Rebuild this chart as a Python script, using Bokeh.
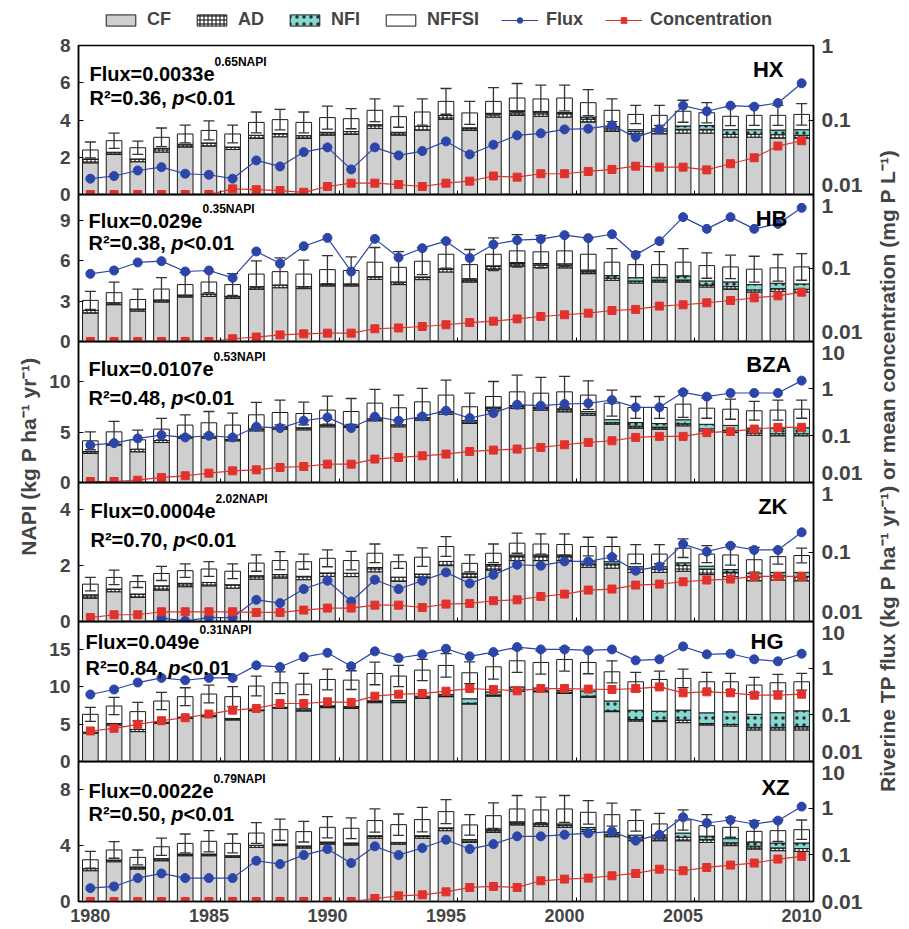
from math import pi
from bokeh.plotting import figure
from bokeh.models import (ColumnDataSource, Range1d, LogScale, LogAxis, FixedTicker,
                          CustomJSTickFormatter, Label, Legend, LegendItem)
from bokeh.layouts import column, row
from bokeh.embed import file_html
from bokeh.resources import INLINE

years = list(range(1980, 2011))

# ---------------- HX ----------------
hx_cf = [1.70, 2.15, 1.76, 2.28, 2.55, 2.60, 2.42, 3.01, 3.10, 3.01, 3.19, 3.23, 3.55, 3.19, 3.46, 4.04,
         3.44, 4.16, 4.25, 4.20, 4.16, 3.89, 3.39, 3.26, 3.26, 3.30, 3.30, 3.08, 3.08, 3.03, 3.03]
hx_ad = [0.20, 0.12, 0.15, 0.20, 0.15, 0.17, 0.13, 0.17, 0.17, 0.15, 0.15, 0.15, 0.20, 0.15, 0.20, 0.20,
         0.12, 0.15, 0.20, 0.20, 0.20, 0.15, 0.18, 0.12, 0.15, 0.20, 0.20, 0.15, 0.15, 0.18, 0.15]
hx_nfi = [0, 0, 0, 0, 0, 0, 0, 0, 0, 0, 0, 0, 0, 0, 0, 0,
          0.02, 0.05, 0.05, 0.06, 0.05, 0.12, 0.08, 0.10, 0.12, 0.18, 0.20, 0.25, 0.25, 0.25, 0.30]
hx_nffsi = [0.49, 0.62, 0.60, 0.59, 0.55, 0.67, 0.70, 0.69, 0.75, 0.71, 0.79, 0.69, 0.77, 0.84, 0.77, 0.76,
            0.80, 0.64, 0.68, 0.67, 0.77, 0.77, 0.87, 0.82, 0.72, 0.79, 0.69, 0.72, 0.77, 0.79, 0.82]
hx_err = [0.43, 0.41, 0.36, 0.50, 0.48, 0.51, 0.48, 0.56, 0.55, 0.56, 0.62, 0.54, 0.61, 0.57, 0.70, 0.69,
          0.62, 0.74, 0.78, 0.74, 0.69, 0.70, 0.61, 0.49, 0.54, 0.59, 0.54, 0.50, 0.54, 0.54, 0.58]
hx_flux = [0.0163, 0.0177, 0.021, 0.0233, 0.019, 0.0184, 0.0163, 0.0287, 0.0238, 0.0371, 0.0429, 0.0217,
           0.0429, 0.0335, 0.0383, 0.0516, 0.0345, 0.0466, 0.0622, 0.0662, 0.0748, 0.0764, 0.0848, 0.0585,
           0.0748, 0.156, 0.131, 0.156, 0.151, 0.169, 0.311]
hx_conc = [0.01, 0.01, 0.01, 0.01, 0.01, 0.01, 0.0119, 0.0116, 0.0113, 0.0107, 0.0128, 0.0142, 0.0142,
           0.0136, 0.0128, 0.0142, 0.0151, 0.0177, 0.0171, 0.019, 0.019, 0.0204, 0.0217, 0.024, 0.0233,
           0.0233, 0.0214, 0.0259, 0.0311, 0.0447, 0.0527]

# ---------------- HB ----------------
hb_cf = [2.11, 2.73, 2.26, 2.93, 3.30, 3.35, 3.20, 3.87, 3.99, 3.92, 4.12, 4.12, 4.61, 4.22, 4.59, 5.16,
         4.41, 5.36, 5.58, 5.48, 5.46, 5.03, 4.54, 4.34, 4.41, 4.41, 4.04, 3.87, 3.67, 3.72, 3.67]
hb_ad = [0.20, 0.15, 0.15, 0.15, 0.15, 0.18, 0.15, 0.20, 0.20, 0.15, 0.15, 0.15, 0.20, 0.20, 0.15, 0.20,
         0.15, 0.20, 0.20, 0.20, 0.20, 0.15, 0.15, 0.15, 0.15, 0.15, 0.15, 0.20, 0.15, 0.20, 0.20]
hb_nfi = [0, 0, 0, 0, 0, 0, 0, 0, 0, 0, 0, 0, 0, 0, 0.05, 0.03,
          0.10, 0.05, 0.08, 0.10, 0.10, 0.12, 0.20, 0.25, 0.20, 0.30, 0.30, 0.35, 0.40, 0.40, 0.40]
hb_nffsi = [0.74, 0.74, 0.71, 0.81, 0.77, 0.88, 0.87, 0.93, 0.99, 0.93, 1.06, 0.99, 1.07, 1.08, 1.16, 1.08,
            1.04, 0.86, 0.86, 0.87, 0.96, 1.17, 0.99, 0.96, 0.94, 1.02, 1.14, 1.11, 1.14, 1.14, 1.26]
hb_err = [0.67, 0.79, 0.77, 0.85, 0.88, 0.79, 0.81, 0.98, 1.02, 1.03, 1.04, 1.01, 1.09, 1.17, 0.99, 1.03,
          1.12, 1.22, 1.21, 1.21, 1.14, 1.22, 1.01, 0.97, 0.97, 1.01, 0.94, 0.87, 0.96, 0.99, 0.99]
hb_flux = [0.0833, 0.0925, 0.119, 0.124, 0.0896, 0.0925, 0.0735, 0.168, 0.115, 0.198, 0.257, 0.0896,
           0.249, 0.139, 0.186, 0.232, 0.137, 0.209, 0.239, 0.247, 0.28, 0.255, 0.288, 0.15, 0.232,
           0.492, 0.341, 0.492, 0.341, 0.398, 0.659]
hb_conc = [0.01, 0.01, 0.01, 0.01, 0.01, 0.01, 0.0109, 0.0115, 0.0123, 0.0127, 0.013, 0.013, 0.0149,
           0.0153, 0.016, 0.0169, 0.0181, 0.0189, 0.0203, 0.0219, 0.0231, 0.0243, 0.0264, 0.0273, 0.0303,
           0.0316, 0.0336, 0.0361, 0.0393, 0.0418, 0.0469]

# ---------------- BZA ----------------
bza_cf = [2.88, 3.71, 3.05, 3.97, 4.40, 4.40, 4.14, 5.13, 5.30, 5.23, 5.53, 5.46, 6.13, 5.53, 6.19, 6.79,
          5.86, 7.19, 7.35, 7.19, 7.02, 6.69, 5.79, 5.40, 5.30, 5.63, 5.13, 4.97, 4.70, 4.64, 4.64]
bza_ad = [0.20, 0.10, 0.25, 0.20, 0.15, 0.15, 0.15, 0.20, 0.20, 0.20, 0.15, 0.15, 0.20, 0.20, 0.20, 0.20,
          0.15, 0.20, 0.20, 0.20, 0.20, 0.15, 0.15, 0.20, 0.20, 0.20, 0.20, 0.20, 0.20, 0.20, 0.20]
bza_nfi = [0, 0, 0, 0, 0, 0, 0, 0, 0, 0, 0.05, 0, 0, 0, 0.05, 0.05,
           0.15, 0.10, 0.10, 0.10, 0.10, 0.20, 0.30, 0.35, 0.35, 0.40, 0.45, 0.50, 0.50, 0.55, 0.60]
bza_nffsi = [1.06, 1.22, 0.94, 1.13, 1.15, 1.38, 1.41, 1.39, 1.45, 1.42, 1.46, 1.44, 1.55, 1.69, 1.57, 1.64,
             1.36, 1.05, 1.35, 1.38, 1.68, 1.64, 1.64, 1.50, 1.60, 1.55, 1.60, 1.61, 1.72, 1.80, 1.84]
bza_err = [0.89, 1.03, 0.96, 1.06, 1.02, 1.12, 1.19, 1.23, 1.23, 1.13, 1.39, 1.29, 1.36, 1.26, 1.33, 1.49,
           1.35, 1.49, 1.66, 1.56, 1.53, 1.42, 1.29, 1.09, 1.09, 1.32, 1.00, 1.00, 0.93, 0.99, 0.90]
bza_flux = [0.0625, 0.069, 0.0867, 0.102, 0.091, 0.0989, 0.091, 0.154, 0.144, 0.206, 0.243, 0.144,
            0.251, 0.206, 0.255, 0.337, 0.235, 0.301, 0.452, 0.431, 0.468, 0.483, 0.569, 0.397, 0.397,
            0.83, 0.671, 0.803, 0.803, 0.803, 1.47]
bza_conc = [0.0105, 0.0105, 0.0112, 0.0128, 0.0139, 0.0158, 0.0177, 0.0186, 0.0209, 0.0219, 0.0246,
            0.0246, 0.0315, 0.0341, 0.037, 0.0402, 0.0458, 0.0489, 0.0514, 0.0557, 0.0635, 0.0713, 0.0773,
            0.091, 0.0957, 0.0957, 0.115, 0.122, 0.137, 0.149, 0.149]

# ---------------- ZK ----------------
zk_cf = [0.83, 1.06, 0.86, 1.12, 1.24, 1.27, 1.19, 1.51, 1.55, 1.49, 1.61, 1.60, 1.77, 1.43, 1.57, 1.99,
         1.57, 1.83, 2.17, 2.17, 2.17, 1.93, 1.90, 1.75, 1.75, 1.79, 1.67, 1.60, 1.45, 1.48, 1.45]
zk_ad = [0.12, 0.10, 0.12, 0.15, 0.12, 0.12, 0.12, 0.12, 0.12, 0.12, 0.12, 0.12, 0.15, 0.15, 0.12, 0.15,
         0.12, 0.15, 0.15, 0.15, 0.15, 0.12, 0.15, 0.12, 0.12, 0.20, 0.20, 0.15, 0.15, 0.15, 0.15]
zk_nfi = [0, 0, 0, 0, 0, 0, 0, 0, 0, 0, 0, 0, 0, 0, 0, 0,
          0.03, 0.05, 0.05, 0.05, 0.05, 0.08, 0.08, 0.08, 0.08, 0.10, 0.10, 0.10, 0.12, 0.12, 0.15]
zk_nffsi = [0.38, 0.41, 0.44, 0.44, 0.45, 0.48, 0.48, 0.45, 0.50, 0.52, 0.52, 0.45, 0.51, 0.55, 0.60, 0.53,
            0.35, 0.40, 0.42, 0.39, 0.37, 0.54, 0.54, 0.45, 0.45, 0.52, 0.43, 0.52, 0.48, 0.56, 0.60]
zk_err = [0.24, 0.26, 0.21, 0.25, 0.24, 0.26, 0.26, 0.29, 0.32, 0.27, 0.30, 0.33, 0.33, 0.24, 0.33, 0.35,
          0.30, 0.33, 0.36, 0.36, 0.38, 0.33, 0.33, 0.34, 0.34, 0.33, 0.30, 0.36, 0.44, 0.27, 0.26]
zk_flux = [0.005, 0.006, 0.0075, 0.0112, 0.0102, 0.0114, 0.0114, 0.0205, 0.0184, 0.0293, 0.0386, 0.0194,
           0.0399, 0.0293, 0.0386, 0.0509, 0.0353, 0.0471, 0.0656, 0.0635, 0.0733, 0.0733, 0.0847, 0.0538,
           0.0621, 0.130, 0.101, 0.123, 0.107, 0.107, 0.192]
zk_conc = [0.0114, 0.0125, 0.0125, 0.0138, 0.0138, 0.0138, 0.0138, 0.0135, 0.0135, 0.0146, 0.0156, 0.0156,
           0.0172, 0.0172, 0.0159, 0.0178, 0.0182, 0.0199, 0.0205, 0.0229, 0.0248, 0.0283, 0.0293, 0.0334,
           0.0345, 0.0373, 0.0395, 0.0408, 0.0446, 0.0446, 0.0446]

# ---------------- HG ----------------
hg_cf = [3.77, 4.88, 3.99, 5.10, 5.77, 5.99, 5.55, 6.79, 7.10, 6.75, 7.19, 7.10, 7.86, 7.86, 8.43, 8.66,
         7.68, 8.74, 9.41, 9.32, 9.10, 8.57, 6.66, 5.41, 5.33, 5.19, 4.88, 4.75, 4.22, 4.22, 4.22]
hg_ad = [0.15, 0.20, 0.30, 0.15, 0.15, 0.20, 0.10, 0.10, 0.15, 0.10, 0.15, 0.15, 0.15, 0.10, 0.15, 0.10,
         0.10, 0.15, 0.10, 0.10, 0.10, 0.15, 0.10, 0.20, 0.15, 0.35, 0.20, 0.20, 0.35, 0.35, 0.45]
hg_nfi = [0, 0, 0, 0, 0, 0, 0.10, 0, 0, 0.20, 0.10, 0.10, 0.10, 0.20, 0.15, 0.20,
          0.60, 0.40, 0.45, 0.40, 0.30, 0.70, 1.33, 1.24, 1.24, 1.33, 1.42, 1.69, 1.73, 1.95, 2.10]
hg_nffsi = [2.38, 2.33, 2.37, 2.83, 2.74, 2.82, 2.91, 3.19, 3.27, 3.29, 3.52, 3.52, 3.65, 3.25, 3.48, 3.87,
            3.47, 3.36, 3.49, 3.41, 4.13, 3.81, 3.89, 3.80, 4.24, 4.23, 4.15, 4.01, 3.91, 4.00, 3.88]
hg_err = [0.93, 1.16, 1.24, 1.15, 1.19, 1.19, 1.33, 1.32, 1.46, 1.42, 1.38, 1.25, 1.51, 1.42, 1.42, 1.57,
          1.45, 1.65, 1.55, 1.55, 1.55, 1.51, 1.47, 1.25, 1.11, 1.24, 1.25, 1.11, 1.02, 1.11, 1.11]
hg_flux = [0.273, 0.349, 0.492, 0.618, 0.551, 0.618, 0.618, 1.15, 1.06, 1.73, 2.14, 1.10, 2.29, 1.65,
           1.98, 2.61, 1.79, 2.21, 2.83, 2.52, 2.52, 2.40, 2.52, 1.47, 1.55, 2.92, 1.98, 2.04, 1.55, 1.40, 2.04]
hg_conc = [0.0451, 0.0514, 0.0625, 0.0748, 0.0867, 0.104, 0.126, 0.137, 0.175, 0.175, 0.19, 0.185, 0.251,
           0.277, 0.286, 0.321, 0.366, 0.349, 0.327, 0.366, 0.366, 0.356, 0.349, 0.366, 0.397, 0.296,
           0.311, 0.296, 0.264, 0.264, 0.277]

# ---------------- XZ ----------------
xz_cf = [2.20, 2.84, 2.32, 2.91, 3.27, 3.27, 3.15, 3.87, 3.99, 3.82, 4.10, 4.03, 4.53, 4.10, 4.53, 5.06,
         4.22, 4.94, 5.47, 5.37, 5.30, 4.99, 4.63, 4.34, 4.34, 4.34, 4.22, 3.99, 3.75, 3.63, 3.58]
xz_ad = [0.15, 0.12, 0.15, 0.15, 0.12, 0.12, 0.12, 0.15, 0.12, 0.15, 0.10, 0.10, 0.12, 0.12, 0.12, 0.15,
         0.10, 0.15, 0.12, 0.12, 0.12, 0.15, 0.15, 0.20, 0.20, 0.25, 0.20, 0.20, 0.20, 0.20, 0.20]
xz_nfi = [0, 0, 0, 0, 0, 0, 0, 0, 0, 0, 0.05, 0.05, 0.05, 0, 0.05, 0.05,
          0.10, 0.10, 0.10, 0.10, 0.12, 0.15, 0.15, 0.20, 0.20, 0.30, 0.25, 0.30, 0.30, 0.35, 0.40]
xz_nffsi = [0.63, 0.72, 0.68, 0.85, 0.76, 0.91, 0.88, 0.87, 1.02, 1.02, 1.05, 1.05, 1.08, 1.27, 1.15, 1.16,
            1.05, 0.94, 0.92, 0.95, 1.07, 1.08, 1.27, 1.04, 0.80, 0.93, 0.75, 0.81, 0.76, 0.88, 0.95]
xz_err = [0.60, 0.59, 0.53, 0.62, 0.67, 0.76, 0.67, 0.74, 0.76, 0.74, 0.76, 0.74, 0.83, 0.76, 0.88, 0.86,
          0.73, 0.91, 0.96, 0.91, 0.96, 0.84, 0.82, 0.76, 0.76, 0.72, 0.78, 0.71, 0.77, 0.76, 0.69]
xz_flux = [0.0193, 0.021, 0.0317, 0.0399, 0.0317, 0.0317, 0.0317, 0.0747, 0.0634, 0.0989, 0.133, 0.0666,
           0.152, 0.0989, 0.14, 0.211, 0.133, 0.17, 0.249, 0.249, 0.27, 0.289, 0.318, 0.201, 0.27,
           0.637, 0.481, 0.558, 0.458, 0.54, 1.08]
xz_conc = [0.01, 0.01, 0.01, 0.01, 0.01, 0.01, 0.01, 0.01, 0.01, 0.01, 0.01, 0.01, 0.0116, 0.0132, 0.0139,
           0.0161, 0.02, 0.021, 0.02, 0.0278, 0.0302, 0.0317, 0.0356, 0.0399, 0.0494, 0.0456, 0.0537,
           0.0603, 0.0666, 0.0811, 0.0925]

panel_names = ["HX", "HB", "BZA", "ZK", "HG", "XZ"]
fit_coef = ["0.0033", "0.029", "0.0107", "0.0004", "0.049", "0.0022"]
fit_expo = ["0.65", "0.35", "0.53", "2.02", "0.31", "0.79"]
fit_r2 = ["0.36", "0.38", "0.48", "0.70", "0.84", "0.50"]
napi_max = [8, 10.9, 14, 4.95, 18.7, 10]
napi_ticks = [[0, 2, 4, 6, 8], [0, 3, 6, 9], [0, 5, 10], [0, 2, 4], [0, 5, 10, 15], [0, 4, 8]]
log_max = [1, 1, 10, 1, 10, 10]
year_labels = [1980, 1985, 1990, 1995, 2000, 2005, 2010]
legend_labels = ["CF", "AD", "NFI", "NFFSI", "Flux", "Concentration"]

series = [
    (hx_cf, hx_ad, hx_nfi, hx_nffsi, hx_err, hx_flux, hx_conc),
    (hb_cf, hb_ad, hb_nfi, hb_nffsi, hb_err, hb_flux, hb_conc),
    (bza_cf, bza_ad, bza_nfi, bza_nffsi, bza_err, bza_flux, bza_conc),
    (zk_cf, zk_ad, zk_nfi, zk_nffsi, zk_err, zk_flux, zk_conc),
    (hg_cf, hg_ad, hg_nfi, hg_nffsi, hg_err, hg_flux, hg_conc),
    (xz_cf, xz_ad, xz_nfi, xz_nffsi, xz_err, xz_flux, xz_conc),
]

# ---------------- style / layout ----------------
FONT = "Liberation Sans"
CF_COLOR = "#cfcfcf"
NFI_COLOR = "#86d9d3"
BLUE = "#2c45a8"
RED = "#e1312b"
EDGE = "#1a1a1a"
WHISK = "#333333"

LEG_H = 31
FRAME_H = [149, 147, 141, 139, 140, 140]
TOP_B = [14, 12, 12, 12, 12, 12]
BOT_B = [12, 12, 12, 12, 12, 28]
OVER = 24
LEFT_W, RIGHT_W = 44, 36
BL, BR, FW = 34, 56, 735
FLUX_BASE = [28, 26, 27, 28, 20, 29]
R2_BASE = [52, 48, 56, 57, 46, 52]
TXT_LEFT = [11, 10, 10, 12, 7, 10]
NAME_BASE = [24, 24, 23, 24, 20, 26]
NAME_RIGHT = [30, 26, 22, 26, 30, 24]
EDGE_TOP, EDGE_BOT = 11, 10   # right labels at inner panel joins are nudged inside the panel (px)

AW = {'.': 278, ',': 278, '=': 584, '<': 584, ' ': 278, 'F': 611, 'l': 278, 'u': 611, 'x': 556,
      'e': 556, 'R': 722, '\u00b2': 333, 'p': 611, 'N': 722, 'A': 722, 'P': 667, 'I': 278}


def tw(s, px):
    return sum(AW.get(c, 556) for c in s) * px / 1000.0


def lab(p, text, x, y, xo, yo, size, align="left", baseline="alphabetic", style="bold"):
    p.add_layout(Label(x=x, y=y, x_offset=xo, y_offset=yo, text=text, text_align=align,
                       text_baseline=baseline, text_font=FONT, text_font_size=f"{size}px",
                       text_font_style=style, text_color="black"))


BAR_STYLE = dict(fill_color=[CF_COLOR, "white", NFI_COLOR, "white"], line_color=EDGE, line_width=1,
                 hatch_pattern=[" ", "+", ".", " "], hatch_color=["black", "black", "#2a2a2a", "black"],
                 hatch_scale=[6, 4, 7, 6], hatch_weight=[1, 1, 1.6, 1])


def draw_series(p, src, whiskers=True):
    bars = p.vbar_stack(["cf", "ad", "nfi", "nffsi"], x="year", width=0.66, source=src, **BAR_STYLE)
    if whiskers:
        p.segment(x0="year", y0="lo", x1="year", y1="hi", source=src, line_color=WHISK, line_width=1.3)
        p.scatter("year", "hi", source=src, marker="dash", size=11, line_color=WHISK, line_width=1.3)
        p.scatter("year", "lo", source=src, marker="dash", size=11, line_color=WHISK, line_width=1.3)
    fl = p.line("year", "flux", source=src, y_range_name="log", line_color=BLUE, line_width=1.2)
    fs = p.scatter("year", "flux", source=src, y_range_name="log", marker="circle", size=9,
                   fill_color=BLUE, line_color=BLUE)
    cl = p.line("year", "conc", source=src, y_range_name="log", line_color=RED, line_width=1.2)
    cs = p.scatter("year", "conc", source=src, y_range_name="log", marker="square", size=8,
                   fill_color=RED, line_color=RED)
    return bars, (fl, fs), (cl, cs)


def fmt_tick(t):
    return ("%g" % t)


figs = []
X0, X1 = 1979.5, 2010.5
for i in range(6):
    cf, ad, nfi, nffsi, err, flux, conc = series[i]
    total = [a + b + c + d for a, b, c, d in zip(cf, ad, nfi, nffsi)]
    src = ColumnDataSource(dict(
        year=years, cf=cf, ad=ad, nfi=nfi, nffsi=nffsi,
        lo=[t - e for t, e in zip(total, err)], hi=[t + e for t, e in zip(total, err)],
        flux=flux, conc=conc))
    h = TOP_B[i] + FRAME_H[i] + BOT_B[i]
    p = figure(width=BL + FW + BR, height=h, x_range=Range1d(X0, X1), y_range=Range1d(0, napi_max[i]),
               output_backend="svg", toolbar_location=None, title=None,
               min_border_left=BL, min_border_right=BR, min_border_top=TOP_B[i], min_border_bottom=BOT_B[i])
    p.border_fill_color = None
    p.background_fill_color = None
    p.outline_line_color = "black"
    p.outline_line_width = 1.5
    p.grid.visible = False
    if i > 0:
        p.margin = (-OVER, 0, 0, 0)
    p.extra_y_ranges = {"log": Range1d(0.01, log_max[i])}
    p.extra_y_scales = {"log": LogScale()}

    ya = p.yaxis[0]
    ya.ticker = FixedTicker(ticks=napi_ticks[i])
    ya.major_tick_in = 5
    ya.major_tick_out = 0
    ya.minor_tick_in = 0
    ya.minor_tick_out = 0
    ya.major_label_standoff = 8
    ya.major_label_text_font = FONT
    ya.major_label_text_font_size = "19px"
    ya.major_label_text_font_style = "bold"
    ya.axis_line_width = 1.5

    xa = p.xaxis[0]
    half = [y + 0.5 for y in year_labels[1:]]
    xa.ticker = FixedTicker(ticks=year_labels if i == 5 else [], minor_ticks=half)
    xa.major_tick_in = 0
    xa.major_tick_out = 0
    xa.minor_tick_in = 4
    xa.minor_tick_out = 0
    xa.major_label_standoff = 7
    xa.major_label_text_font = FONT
    xa.major_label_text_font_size = "18px"
    xa.major_label_text_font_style = "bold"
    xa.axis_line_width = 1.5

    # right log axis: one axis for the rule and inward ticks, one (outside it) for the labels
    lticks = [0.01, 0.1, 1] if log_max[i] == 1 else [0.01, 0.1, 1, 10]
    ra = LogAxis(y_range_name="log", ticker=FixedTicker(ticks=lticks),
                 formatter=CustomJSTickFormatter(code="return '';"),
                 major_tick_in=5, major_tick_out=0, minor_tick_in=0, minor_tick_out=0,
                 major_label_standoff=0, major_label_text_font_size="1px", axis_line_width=1.5)
    p.add_layout(ra, "right")
    ndec = len(lticks) - 1
    dec_px = FRAME_H[i] / ndec
    lpos = list(lticks)
    if i > 0:
        lpos[-1] = lticks[-1] * 10 ** (-EDGE_TOP / dec_px)
    if i < 5:
        lpos[0] = lticks[0] * 10 ** (EDGE_BOT / dec_px)
    ltext = [fmt_tick(t) for t in lticks]
    code = ("const pos = %s; const txt = %s; let b = 0;"
            "for (let k = 0; k < pos.length; k++) { if (Math.abs(Math.log(tick / pos[k])) < Math.abs(Math.log(tick / pos[b]))) b = k; }"
            "return txt[b];") % (str(lpos), str(ltext))
    rl = LogAxis(y_range_name="log", ticker=FixedTicker(ticks=lpos), formatter=CustomJSTickFormatter(code=code),
                 axis_line_color=None, major_tick_line_color=None, minor_tick_line_color=None,
                 major_tick_in=0, major_tick_out=0,
                 major_label_standoff=8, major_label_text_font=FONT, major_label_text_font_size="21px",
                 major_label_text_font_style="bold")
    p.add_layout(rl, "right")

    draw_series(p, src)

    ymax = napi_max[i]
    x0 = TXT_LEFT[i]
    main = "Flux=" + fit_coef[i] + "e"
    lab(p, main, X0, ymax, x0, -FLUX_BASE[i], 20)
    lab(p, fit_expo[i] + "NAPI", X0, ymax, x0 + tw(main, 20), -FLUX_BASE[i] + 11.5, 12)
    r2txt = "R\u00b2=" + fit_r2[i] + ", "
    lab(p, r2txt, X0, ymax, x0, -R2_BASE[i], 20)
    lab(p, "p", X0, ymax, x0 + tw(r2txt, 20), -R2_BASE[i], 20, style="bold italic")
    lab(p, "<0.01", X0, ymax, x0 + tw(r2txt, 20) + tw("p", 20), -R2_BASE[i], 20)
    lab(p, panel_names[i], X1, ymax, -NAME_RIGHT[i], -NAME_BASE[i], 22, align="right")
    figs.append(p)

# legend strip: same glyph styles, fed with a single point that lies far outside its ranges
lf = figure(width=BL + FW + BR, height=LEG_H, x_range=Range1d(0, 1), y_range=Range1d(0, 1),
            output_backend="svg", toolbar_location=None, title=None,
            min_border_left=BL, min_border_right=BR, min_border_top=0, min_border_bottom=0,
            x_axis_type=None, y_axis_type=None)
lf.grid.visible = False
lf.axis.visible = False
lf.outline_line_color = None
lf.border_fill_color = None
lf.background_fill_color = None
lf.extra_y_ranges = {"log": Range1d(0.01, 1)}
lf.extra_y_scales = {"log": LogScale()}
dummy = ColumnDataSource(dict(year=[-50], cf=[-5], ad=[-5], nfi=[-5], nffsi=[-5], lo=[-5], hi=[-5],
                              flux=[1e-6], conc=[1e-6]))
lbars, lflux, lconc = draw_series(lf, dummy, whiskers=False)
items = [LegendItem(label=legend_labels[k], renderers=[lbars[k]]) for k in range(4)]
items.append(LegendItem(label=legend_labels[4], renderers=list(lflux)))
items.append(LegendItem(label=legend_labels[5], renderers=list(lconc)))
leg = Legend(items=items, orientation="horizontal", location=(24, 1),
             glyph_width=37, glyph_height=14, label_standoff=8, spacing=22,
             padding=0, margin=0, border_line_alpha=0, background_fill_alpha=0,
             label_text_font=FONT, label_text_font_size="18px", label_text_font_style="bold")
lf.add_layout(leg)

TOTAL_H = LEG_H + sum(TOP_B[i] + FRAME_H[i] + BOT_B[i] for i in range(6)) - 5 * OVER


def label_fig(w, text, cx, cy):
    f = figure(width=w, height=TOTAL_H, x_range=Range1d(0, w), y_range=Range1d(0, TOTAL_H),
               output_backend="svg", toolbar_location=None, title=None,
               min_border=0, x_axis_type=None, y_axis_type=None)
    f.grid.visible = False
    f.outline_line_color = None
    f.border_fill_color = None
    f.background_fill_color = None
    f.add_layout(Label(x=cx, y=cy, text=text, angle=pi / 2, text_align="center", text_baseline="middle",
                       text_font=FONT, text_font_size="21px", text_font_style="bold"))
    return f


left = label_fig(LEFT_W, "NAPI (kg P ha\u207b\u00b9 yr\u207b\u00b9)", 27.5, TOTAL_H - 456)
right = label_fig(RIGHT_W, "Riverine TP flux (kg P ha\u207b\u00b9 yr\u207b\u00b9) or mean concentration (mg P L\u207b\u00b9)",
                  18, TOTAL_H - 470)

layout = row(left, column(lf, *figs), right)
open("out.html", "w").write(file_html(layout, INLINE))
